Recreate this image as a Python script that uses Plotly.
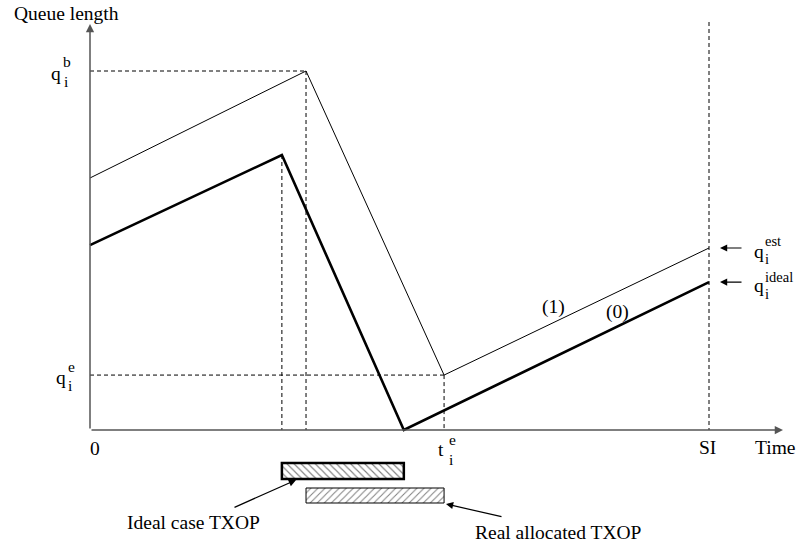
import plotly.graph_objects as go

# ---- data (time in SI/10 units, queue length in q_b/10 units) ----
t_est = [0, 3.49, 5.72, 10]          # estimated queue, curve (1)
q_est = [7.02, 10.0, 1.53, 5.07]
t_ideal = [0, 3.10, 5.07, 10]        # ideal queue, curve (0)
q_ideal = [5.15, 7.66, 0.0, 4.12]
SI = 10
q_b = q_est[1]
q_e = q_est[2]
t_e = t_est[2]
# TXOP intervals: ideal = bold peak -> bold empty, real = est peak -> t_e
txop_ideal = [t_ideal[1], t_ideal[2]]
txop_real = [t_est[1], t_est[2]]

# ---- pixel <-> data mapping (whole canvas is the plot area) ----
W, H = 800, 548
OX, OY = 90, 430
SX, SY = 61.9, 35.9


def X(px):
    return (px - OX) / SX


def Y(py):
    return (OY - py) / SY


FONT = "Liberation Serif"
AX_COL = "#555555"
DASH = "4px,3px"
FS, FSS = 19.5, 15.5

fig = go.Figure()

# TXOP boxes (hatched)
fig.add_trace(go.Bar(
    orientation="h", y=[Y(471)], x=[txop_ideal[1] - txop_ideal[0]], base=[txop_ideal[0]],
    width=[16 / SY],
    marker=dict(color="white", line=dict(color="black", width=2.5),
                pattern=dict(shape="\\", fgcolor="black", bgcolor="white", size=5, solidity=0.22)),
    showlegend=False, hoverinfo="skip"))
fig.add_trace(go.Bar(
    orientation="h", y=[Y(495.5)], x=[txop_real[1] - txop_real[0]], base=[txop_real[0]],
    width=[15 / SY],
    marker=dict(color="white", line=dict(color="black", width=1),
                pattern=dict(shape="/", fgcolor="black", bgcolor="white", size=5, solidity=0.2)),
    showlegend=False, hoverinfo="skip"))

# dashed guides
dash = dict(color="black", width=1, dash=DASH)
guides = [
    ([0, t_est[1]], [q_b, q_b]),
    ([t_est[1], t_est[1]], [q_b, 0]),
    ([t_ideal[1], t_ideal[1]], [q_ideal[1], 0]),
    ([0, t_e], [q_e, q_e]),
    ([t_e, t_e], [q_e, 0]),
    ([SI, SI], [Y(22), 0]),
]
for gx, gy in guides:
    fig.add_trace(go.Scatter(x=gx, y=gy, mode="lines", line=dash,
                             showlegend=False, hoverinfo="skip"))

# queue curves
fig.add_trace(go.Scatter(x=t_est, y=q_est, mode="lines",
                         line=dict(color="black", width=1), showlegend=False))
fig.add_trace(go.Scatter(x=t_ideal, y=q_ideal, mode="lines",
                         line=dict(color="black", width=2.6), showlegend=False))

ann = []


def arrow(x, y, ax, ay, color="black", width=1.2, size=1.2):
    ann.append(dict(x=x, y=y, ax=ax, ay=ay, xref="x", yref="y", axref="x", ayref="y",
                    text="", showarrow=True, arrowhead=2, arrowsize=size,
                    arrowwidth=width, arrowcolor=color, standoff=0, startstandoff=0))


def txt(x, y, s, size=FS, xanchor="center"):
    ann.append(dict(x=x, y=y, xref="x", yref="y", text=s, showarrow=False,
                    font=dict(family=FONT, size=size, color="black"),
                    xanchor=xanchor, yanchor="middle"))


# axes with arrows
arrow(0, Y(24), 0, 0, color=AX_COL, width=1.5, size=1.1)
arrow(X(783), 0, 0, 0, color=AX_COL, width=1.5, size=1.1)

# axis labels
txt(X(12), Y(13), "Queue length", xanchor="left")
txt(X(797), Y(447), "Time", xanchor="right")
txt(X(707), Y(447), "SI")
txt(X(95), Y(448), "0")

# q_i^b
txt(X(56), Y(73), "q")
txt(X(67), Y(61), "b", size=FSS)
txt(X(66), Y(81), "i", size=FSS)
# q_i^e
txt(X(61), Y(377), "q")
txt(X(71), Y(366), "e", size=FSS)
txt(X(70), Y(385), "i", size=FSS)
# t_i^e
txt(X(441), Y(449), "t")
txt(X(452), Y(439), "e", size=FSS)
txt(X(451), Y(459), "i", size=FSS)

# curve tags
txt(X(553), Y(307), "(1)")
txt(X(617), Y(312), "(0)")

# q_i^est / q_i^ideal
arrow(X(720), q_est[-1], X(743), q_est[-1])
arrow(X(720), q_ideal[-1], X(743), q_ideal[-1])
txt(X(752), Y(251), "q", xanchor="left")
txt(X(763), Y(241), "est", size=14.5, xanchor="left")
txt(X(763), Y(259), "i", size=14.5, xanchor="left")
txt(X(752), Y(285), "q", xanchor="left")
txt(X(763), Y(277), "ideal", size=14.5, xanchor="left")
txt(X(763), Y(294), "i", size=14.5, xanchor="left")

# TXOP labels
arrow(X(296), Y(480), X(233), Y(508))
arrow(X(446), Y(504), X(503), Y(517))
txt(X(125), Y(522), "Ideal case TXOP", xanchor="left")
txt(X(473), Y(532), "Real allocated TXOP", xanchor="left")

fig.update_layout(
    width=W, height=H,
    margin=dict(l=0, r=0, t=0, b=0),
    paper_bgcolor="white", plot_bgcolor="white",
    barmode="overlay",
    annotations=ann,
    xaxis=dict(range=[X(0), X(W)], visible=False, fixedrange=True),
    yaxis=dict(range=[Y(H), Y(0)], visible=False, fixedrange=True),
)

fig.write_html("out.html", config={"displayModeBar": False},
               post_script="document.body.style.margin='0';document.body.style.overflow='hidden';")
